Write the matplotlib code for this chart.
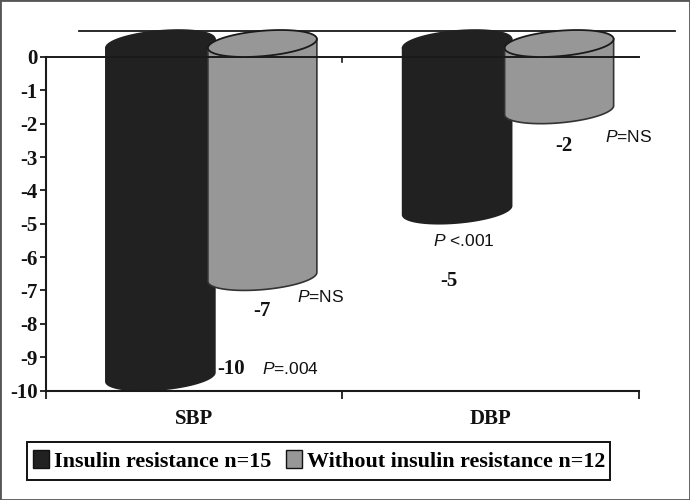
import numpy as np
import matplotlib
matplotlib.use("Agg")
import matplotlib.pyplot as plt
from matplotlib.patches import Polygon, Patch, Rectangle
from matplotlib.lines import Line2D

categories = ["SBP", "DBP"]
series_names = ["Insulin resistance n=15", "Without insulin resistance n=12"]
insulin_resistance = [-10, -5]
without_resistance = [-7, -2]
p_insulin = ["=.004", " <.001"]
p_without = ["=NS", "=NS"]
y_ticks = list(range(0, -11, -1))

W, H = 690, 500
BLACK = "#212121"
GRAY = "#979797"
SERIF = "Liberation Serif"
SANS = "Liberation Sans"
plt.rcParams["mathtext.fontset"] = "custom"
plt.rcParams["mathtext.it"] = "Liberation Sans:italic"
plt.rcParams["mathtext.rm"] = "Liberation Sans"

fig = plt.figure(figsize=(W/100, H/100), dpi=100, facecolor="white")
L, R, T, B = 45.5, 639, 57, 390.5
ax = fig.add_axes([L/W, 1-B/H, (R-L)/W, (B-T)/H])
ax.set_xlim(-0.5, 1.5)
ax.set_ylim(-10, 0)

ppx = (R-L)/2          # px per category
ppy = (B-T)/10         # px per unit
a = 54.5/ppx           # half width
s = 4.5/ppy            # ellipse tilt
b = 12.7/ppy           # ellipse minor
d = 13.5/ppy           # vertical half extent


def cylinder(xc, val, color, edge):
    t = np.linspace(0, 2*np.pi, 121)
    xe = xc + a*np.cos(t)
    ye_top = d + s*np.cos(t) + b*np.sin(t)
    tb = np.linspace(np.pi, 2*np.pi, 80)
    xb = xc + a*np.cos(tb)
    yb = val + d + s*np.cos(tb) + b*np.sin(tb)
    body = np.column_stack([np.r_[xc-a, xb, xc+a], np.r_[d-s, yb, d+s]])
    ax.add_patch(Polygon(body, closed=True, fc=color, ec=edge, lw=1.2,
                         clip_on=False, zorder=3))
    return np.column_stack([xe, ye_top])


off_black = -33.5/ppx
off_gray = 68.5/ppx
x = np.arange(len(categories))

for xi, v in zip(x, insulin_resistance):
    top = cylinder(xi+off_black, v, BLACK, BLACK)
    ax.add_patch(Polygon(top, closed=True, fc=BLACK, ec=BLACK, lw=1.2, clip_on=False, zorder=3.2))

for xi, v in zip(x, without_resistance):
    top = cylinder(xi+off_gray, v, GRAY, "#333333")
    ax.add_patch(Polygon(top, closed=True, fc=GRAY, ec="#1a1a1a", lw=1.3, clip_on=False, zorder=3.6))

ax.axhline(0, xmin=0, xmax=1, color="#1a1a1a", lw=1.4, zorder=3.5, clip_on=False)
for sp in ("top", "right"):
    ax.spines[sp].set_visible(False)
for sp in ("left", "bottom"):
    ax.spines[sp].set_linewidth(1.5)
    ax.spines[sp].set_color("#1a1a1a")
    ax.spines[sp].set_zorder(4)

LABEL = dict(fontfamily=SERIF, fontweight="bold", fontsize=15, color="#111111")
ax.set_yticks(y_ticks)
ax.set_yticklabels([str(v) for v in y_ticks], **LABEL)
ax.tick_params(axis="y", length=4, width=1.3, pad=1.5, color="#1a1a1a")
ax.set_xticks([-0.5, 0.5, 1.5])
ax.set_xticklabels([])
ax.tick_params(axis="x", which="major", length=6, width=1.3, color="#1a1a1a")
ax.set_xticks(x, minor=True)
ax.set_xticklabels(categories, minor=True, **LABEL)
ax.tick_params(axis="x", which="minor", length=0, pad=13)
ax.plot([0.5, 0.5], [0, -0.15], color="#1a1a1a", lw=1.2, zorder=2)

fig.add_artist(Line2D([79/W, 675/W], [1-30.5/H]*2, color="#1a1a1a", lw=1.3, zorder=0))


def dx(px_x):
    return (px_x-L)/ppx - 0.5


def dy(px_y):
    return -(px_y-T)/ppy


val_pos = [(231, 369), (449, 281)]
val_pos2 = [(262, 311), (564, 146)]
pi_pos = [(262, 369), (433, 241)]
pw_pos = [(297, 297), (605, 137)]
for v, (px, py) in zip(insulin_resistance, val_pos):
    ax.text(dx(px), dy(py), str(v), ha="center", va="center", zorder=6, **LABEL)
for v, (px, py) in zip(without_resistance, val_pos2):
    ax.text(dx(px), dy(py), str(v), ha="center", va="center", zorder=6, **LABEL)
for p, (px, py) in zip(p_insulin + p_without, pi_pos + pw_pos):
    ax.text(dx(px), dy(py), r"$\mathit{P}$" + p, ha="left", va="center",
            family=SANS, fontsize=12.5, color="#111111", zorder=6)

# legend frame and entries
fig.add_artist(Rectangle((27/W, 1-480/H), 583/W, 38/H, transform=fig.transFigure,
                         fc="white", ec="#111111", lw=1.4))
handles = [Patch(fc=BLACK, ec="#111111"), Patch(fc=GRAY, ec="#111111")]
leg = fig.legend(handles, series_names, loc="center left", bbox_to_anchor=(33/W, 1-461/H),
                 borderaxespad=0, ncol=2, frameon=False,
                 handlelength=0.73, handleheight=0.85, handletextpad=0.23,
                 columnspacing=0.68, borderpad=0,
                 prop={"family": SERIF, "weight": "bold", "size": 15.8})

fig.add_artist(Rectangle((0, 0), 1, 1, transform=fig.transFigure, fill=False, ec="#555555", lw=2))

fig.savefig("out.png", dpi=100)
